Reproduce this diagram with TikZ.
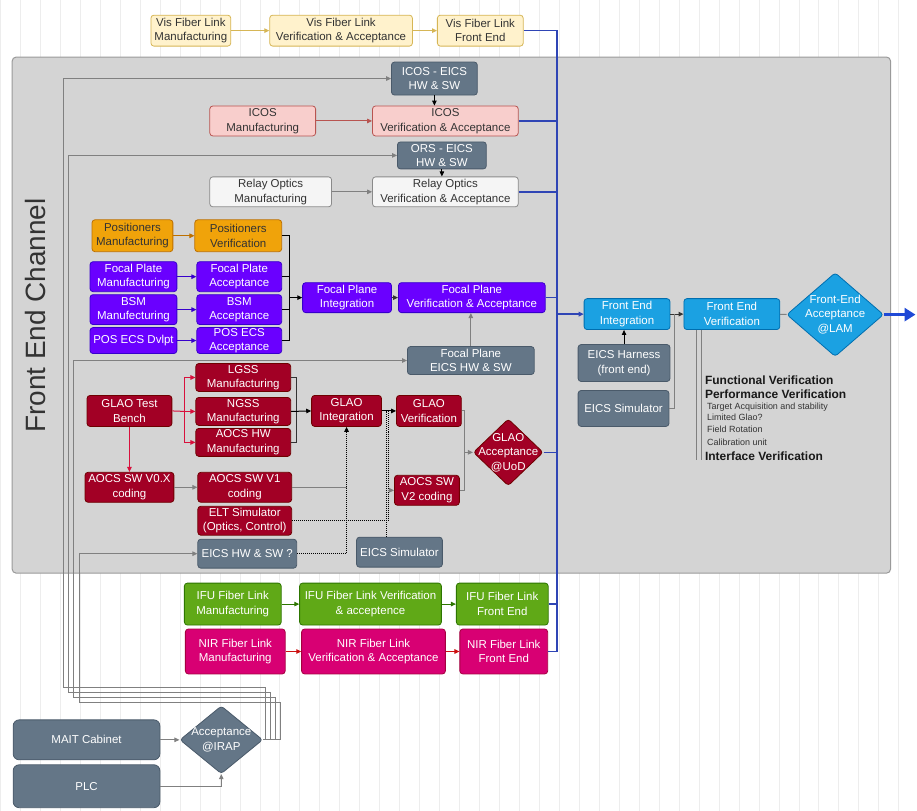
\documentclass[tikz,border=0pt]{standalone}
\usepackage{fontspec}
\setmainfont{Liberation Sans}
\usepackage{tikz}
\usetikzlibrary{arrows.meta,shapes.geometric}

\definecolor{txt}{HTML}{333333}
\definecolor{visfill}{HTML}{FFF2CC}
\definecolor{visline}{HTML}{D6B656}
\definecolor{icosfill}{HTML}{F8CECC}
\definecolor{icosline}{HTML}{B85450}
\definecolor{slate}{HTML}{647687}
\definecolor{slateline}{HTML}{4A5A6A}
\definecolor{relayfill}{HTML}{F5F5F5}
\definecolor{relayline}{HTML}{8A8A8A}
\definecolor{posfill}{HTML}{F0A30A}
\definecolor{posline}{HTML}{BD7000}
\definecolor{fpfill}{HTML}{6A00FF}
\definecolor{fpline}{HTML}{3700CC}
\definecolor{fefill}{HTML}{1BA1E2}
\definecolor{feline}{HTML}{006EAF}
\definecolor{glaofill}{HTML}{A20025}
\definecolor{glaoline}{HTML}{6F0000}
\definecolor{glaoarrow}{HTML}{D8103C}
\definecolor{ifufill}{HTML}{60A917}
\definecolor{ifuline}{HTML}{2D7600}
\definecolor{nirfill}{HTML}{D80073}
\definecolor{nirline}{HTML}{A50040}
\definecolor{nirarrow}{HTML}{CC1010}
\definecolor{panelfill}{HTML}{D4D4D4}
\definecolor{panelline}{HTML}{9A9A9A}
\definecolor{wirec}{HTML}{808080}
\definecolor{busc}{HTML}{2F45B5}
\definecolor{exitc}{HTML}{1F49D6}
\definecolor{gridc}{HTML}{EDEDED}

\begin{document}
\begin{tikzpicture}[x=1pt,y=-1pt,
    box/.style={draw, rounded corners=3pt, align=center, inner sep=0.5pt, line width=0.8pt,
      font=\fontsize{11.5}{14.5}\selectfont},
    vis/.style={box, fill=visfill, draw=visline, text=txt},
    icos/.style={box, fill=icosfill, draw=icosline, text=txt},
    relay/.style={box, fill=relayfill, draw=relayline, text=txt},
    eics/.style={box, fill=slate, draw=slateline, text=white},
    posi/.style={box, fill=posfill, draw=posline, text=txt},
    fp/.style={box, fill=fpfill, draw=fpline, text=white},
    fe/.style={box, fill=fefill, draw=feline, text=white},
    glao/.style={box, fill=glaofill, draw=glaoline, text=white},
    ifu/.style={box, fill=ifufill, draw=ifuline, text=white},
    nir/.style={box, fill=nirfill, draw=nirline, text=white},
    dia/.style={diamond, rounded corners=3pt, inner sep=-14pt, align=center, line width=0.8pt,
      font=\fontsize{11.5}{14.5}\selectfont, text=white},
    arr/.style={-{Triangle[length=5pt,width=4.5pt]}},
    wire/.style={draw=wirec, line width=1pt},
    busline/.style={draw=busc, line width=1.6pt},
    dotline/.style={draw=black, line width=1pt, densely dotted},
    listbold/.style={anchor=west, inner sep=0pt, font=\fontsize{12}{14}\selectfont\bfseries, text=black!90},
    listsmall/.style={anchor=west, inner sep=0pt, font=\fontsize{9}{10}\selectfont, text=txt},
  ]
  % background and grid
  \fill[white] (0,0) rectangle (917,812);
  \draw[gridc, line width=0.4pt, step=20] (0,0) grid (917,812);

  % channel panel
  \node[draw=panelline, fill=panelfill, rounded corners=4pt, line width=1pt,
        minimum width=880, minimum height=517, inner sep=0pt] (panel) at (452,315.5) {};
  \node[rotate=90, font=\fontsize{28}{30}\selectfont, text=txt] (title) at (35,316) {Front End Channel};

  % vis fiber link
  \node[vis, minimum width=80, minimum height=31] (vism) at (191,30.5) {Vis Fiber Link\\Manufacturing};
  \node[vis, minimum width=143, minimum height=31] (visv) at (341.5,30.5) {Vis Fiber Link\\Verification \& Acceptance};
  \node[vis, minimum width=86, minimum height=31] (visf) at (481,30.5) {Vis Fiber Link\\Front End};

  % icos and relay optics
  \node[eics, minimum width=86, minimum height=33] (icoseics) at (435,78.5) {ICOS - EICS\\HW \& SW};
  \node[icos, minimum width=106, minimum height=30] (icosm) at (263,121) {ICOS\\Manufacturing};
  \node[icos, minimum width=146, minimum height=30] (icosv) at (446,121) {ICOS\\Verification \& Acceptance};
  \node[eics, minimum width=89, minimum height=27] (orseics) at (442.5,155.5) {ORS - EICS\\HW \& SW};
  \node[relay, minimum width=122, minimum height=30] (rom) at (271,192) {Relay Optics\\Manufacturing};
  \node[relay, minimum width=146, minimum height=30] (rov) at (446,192) {Relay Optics\\Verification \& Acceptance};

  % focal plane
  \node[posi, minimum width=81, minimum height=32] (posm) at (132.5,236) {Positioners\\Manufacturing};
  \node[posi, minimum width=87, minimum height=32] (posv) at (238.5,236) {Positioners\\Verification};
  \node[fp, minimum width=87, minimum height=30] (fpm) at (133.5,277) {Focal Plate\\Manufacturing};
  \node[fp, minimum width=85, minimum height=30] (fpa) at (239.5,277) {Focal Plate\\Acceptance};
  \node[fp, minimum width=87, minimum height=30] (bsmm) at (133.5,310) {BSM\\Manufecturing};
  \node[fp, minimum width=85, minimum height=30] (bsma) at (239.5,310) {BSM\\Acceptance};
  \node[fp, minimum width=87, minimum height=26] (posecsd) at (133.5,341) {POS ECS Dvlpt};
  \node[fp, minimum width=85, minimum height=26] (posecsa) at (239.5,341) {POS ECS\\Acceptance};
  \node[fp, minimum width=89, minimum height=30] (fpi) at (347.5,298) {Focal Plane\\Integration};
  \node[fp, minimum width=147, minimum height=30] (fpv) at (472.5,298) {Focal Plane\\Verification \& Acceptance};
  \node[eics, minimum width=127, minimum height=28] (fpeics) at (471.5,361) {Focal Plane\\EICS HW \& SW};

  % front end
  \node[fe, minimum width=86, minimum height=31] (fei) at (628,314.5) {Front End\\Integration};
  \node[fe, minimum width=96, minimum height=31] (fev) at (733,314.5) {Front End\\Verification};
  \node[dia, fill=fefill, draw=feline, minimum width=97, minimum height=84] (feacc) at (836.5,315) {Front-End\\Acceptance\\@LAM};
  \node[eics, minimum width=92, minimum height=37] (eicsh) at (625,363.5) {EICS Harness\\(front end)};
  \node[eics, minimum width=91, minimum height=36] (eicss) at (624.5,409) {EICS Simulator};

  \node[listbold] (funcv) at (706,381) {Functional Verification};
  \node[listbold] (perfv) at (706,395) {Performance Verification};
  \node[listsmall] (targacq) at (708,407.5) {Target Acquisition and stability};
  \node[listsmall] (limglao) at (708,418) {Limited Glao?};
  \node[listsmall] (fieldrot) at (708,429.5) {Field Rotation};
  \node[listsmall] (calunit) at (708,443) {Calibration unit};
  \node[listbold] (intfv) at (706,457) {Interface Verification};

  % glao
  \node[glao, minimum width=85, minimum height=31] (glaotb) at (129.5,411.5) {GLAO Test\\Bench};
  \node[glao, minimum width=95, minimum height=28] (lgss) at (243.5,378) {LGSS\\Manufacturing};
  \node[glao, minimum width=95, minimum height=28] (ngss) at (243.5,412) {NGSS\\Manufacturing};
  \node[glao, minimum width=95, minimum height=28] (aocshw) at (243.5,443) {AOCS HW\\Manufacturing};
  \node[glao, minimum width=89, minimum height=30] (aocsv0) at (129.5,488) {AOCS SW V0.X\\coding};
  \node[glao, minimum width=94, minimum height=30] (aocsv1) at (245,488) {AOCS SW V1\\coding};
  \node[glao, minimum width=94, minimum height=29] (eltsim) at (245,521.5) {ELT Simulator\\(Optics, Control)};
  \node[eics, minimum width=99, minimum height=29] (eicshwq) at (247.5,554.5) {EICS HW \& SW ?};
  \node[eics, minimum width=86, minimum height=30] (eicssim) at (400,553) {EICS Simulator};
  \node[glao, minimum width=70, minimum height=31] (glaoi) at (347,411.5) {GLAO\\Integration};
  \node[glao, minimum width=65, minimum height=31] (glaov) at (429.5,411.5) {GLAO\\Verification};
  \node[glao, minimum width=65, minimum height=30] (aocsv2) at (427.5,491) {AOCS SW\\V2 coding};
  \node[dia, fill=glaofill, draw=glaoline, minimum width=70, minimum height=67] (glaoacc) at (509,453) {GLAO\\Acceptance\\@UoD};

  % fiber links
  \node[ifu, minimum width=97, minimum height=42] (ifum) at (233,605) {IFU Fiber Link\\Manufacturing};
  \node[ifu, minimum width=142, minimum height=42] (ifuv) at (371,605) {IFU Fiber Link Verification\\\& acceptence};
  \node[ifu, minimum width=92, minimum height=42] (ifuf) at (503,605) {IFU Fiber Link\\Front End};
  \node[nir, minimum width=100, minimum height=45] (nirm) at (235.5,652.5) {NIR Fiber Link\\Manufacturing};
  \node[nir, minimum width=144, minimum height=45] (nirv) at (374,652.5) {NIR Fiber Link\\Verification \& Acceptance};
  \node[nir, minimum width=88, minimum height=45] (nirf) at (504.5,652.5) {NIR Fiber Link\\Front End};

  % mait
  \node[eics, rounded corners=6pt, minimum width=147, minimum height=40] (maitc) at (86.5,741) {MAIT Cabinet};
  \node[eics, rounded corners=6pt, minimum width=147, minimum height=43] (plc) at (86.5,787.5) {PLC};
  \node[dia, fill=slate, draw=slateline, minimum width=83, minimum height=68] (irap) at (221.5,741) {Acceptance\\@IRAP};

  % blue bus to front end
  \coordinate (fbus) at (558,315);
  \draw[busline] (visf.east) -| (fbus) |- (nirf.east);
  \draw[busline] (icosv.east) -- (icosv.east -| fbus);
  \draw[busline] (rov.east) -- (rov.east -| fbus);
  \draw[busline] (fpv.east) -- (fpv.east -| fbus);
  \draw[busline] (glaoacc.east) -- (glaoacc.east -| fbus);
  \draw[busline] (ifuf.east) -- (ifuf.east -| fbus);
  \draw[busline, arr] (fei.west -| fbus) -- (fei.west);

  % vis, icos, relay links
  \draw[visline, line width=1pt, arr] (vism) -- (visv);
  \draw[visline, line width=1pt, arr] (visv) -- (visf);
  \draw[black, line width=0.8pt, arr] (icoseics.south) -- (icoseics.south |- icosv.north);
  \draw[icosline, line width=1pt, arr] (icosm) -- (icosv);
  \draw[black, line width=0.8pt, arr] (orseics.south) -- (orseics.south |- rov.north);
  \draw[wire, arr] (rom) -- (rov);

  % focal plane links
  \draw[posline, line width=1pt, arr] (posm) -- (posv);
  \draw[fpline, line width=1pt, arr] (fpm) -- (fpa);
  \draw[fpline, line width=1pt, arr] (bsmm) -- (bsma);
  \draw[fpline, line width=1pt, arr] (posecsd) -- (posecsa);
  \coordinate (fpbus) at (290,298);
  \draw[black, line width=1pt] (posv.east) -| (fpbus);
  \draw[black, line width=1pt] (fpa.east) -| (fpbus);
  \draw[black, line width=1pt] (bsma.east) -| (fpbus);
  \draw[black, line width=1pt] (posecsa.east) -| (fpbus);
  \draw[black, line width=1pt, arr] (fpbus) -- (fpi.west);
  \draw[txt, line width=1pt, arr] (fpi) -- (fpv);
  \draw[wire, arr] (fpeics.north) -- (fpeics.north |- fpv.south);

  % front end links
  \coordinate (fejoin) at (676,314.5);
  \draw[txt, line width=1pt, arr] (fei) -- (fev);
  \draw[wire] (eicss.east) -| (fejoin);
  \draw[black, line width=0.8pt, arr] (eicsh.north) -- (eicsh.north |- fei.south);
  \draw[wire] (fev) -- (feacc);
  \draw[exitc, line width=3pt, -{Triangle[length=11pt,width=13pt]}] (feacc.east) -- (917,315);
  \coordinate (vline1) at (698,461);
  \coordinate (vline2) at (703,461);
  \draw[wire] (fev.south -| vline1) -- (vline1);
  \draw[wire] (fev.south -| vline2) -- (vline2);

  % glao links
  \coordinate (redbus) at (185,412);
  \draw[glaoarrow, line width=1pt] (glaotb.east) -- (redbus);
  \draw[glaoarrow, line width=1pt, arr] (redbus) |- (lgss.west);
  \draw[glaoarrow, line width=1pt, arr] (redbus) -- (ngss.west);
  \draw[glaoarrow, line width=1pt, arr] (redbus) |- (aocshw.west);
  \draw[glaoarrow, line width=1pt, arr] (glaotb) -- (aocsv0);
  \coordinate (glaobus) at (297,412);
  \draw[txt, line width=0.8pt] (lgss.east) -| (glaobus);
  \draw[txt, line width=0.8pt] (aocshw.east) -| (glaobus);
  \draw[black, line width=1pt, arr] (ngss.east) -- (glaoi.west);
  \draw[black, line width=1pt, arr] (glaoi) -- (glaov);
  \draw[wire, arr] (aocsv0) -- (aocsv1);
  \draw[wire] (aocsv1.east) -- (aocsv1.east -| glaoi.south);
  \draw[dotline, arr] (eicshwq.east) -| (glaoi.south);
  \coordinate (simbus) at (389,412);
  \draw[dotline] (eltsim.east) -| (simbus);
  \draw[dotline] ([xshift=-13pt]eicssim.north) -- ([xshift=-13pt]eicssim.north |- glaov.west);
  \draw[wire, arr] (aocsv2.west -| simbus) -- (aocsv2.west);
  \coordinate (accjoin) at (465,453);
  \draw[wire] (glaov.east) -| (accjoin);
  \draw[wire] (aocsv2.east) -| (accjoin);
  \draw[wire, arr] (accjoin) -- (glaoacc.west);

  % fiber link arrows
  \draw[ifuline, line width=1pt, arr] (ifum) -- (ifuv);
  \draw[ifuline, line width=1pt, arr] (ifuv) -- (ifuf);
  \draw[nirarrow, line width=1pt, arr] (nirm) -- (nirv);
  \draw[nirarrow, line width=1pt, arr] (nirv) -- (nirf);

  % mait and eics wiring
  \draw[wire, arr] (maitc) -- (irap);
  \draw[wire, arr] (plc.east) -| (irap.south);
  \draw[wire, arr] (irap.east) -| (266,689) -- (63,689) |- (icoseics.west);
  \draw[wire, arr] (irap.east) -| (271,694) -- (68,694) |- (orseics.west);
  \draw[wire, arr] (irap.east) -| (276,699) -- (73,699) |- (fpeics.west);
  \draw[wire, arr] (irap.east) -| (281,704) -- (79,704) |- (eicshwq.west);
\end{tikzpicture}
\end{document}
